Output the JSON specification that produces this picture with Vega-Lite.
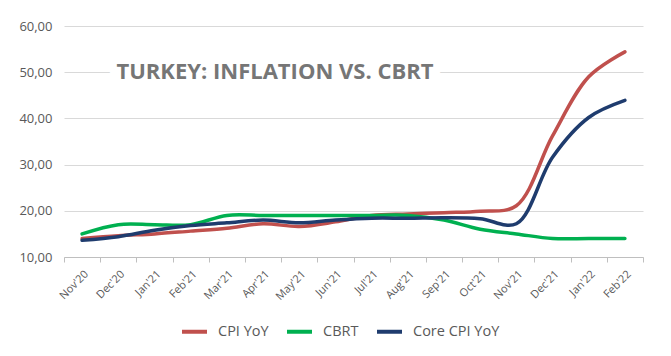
{
  "$schema": "https://vega.github.io/schema/vega-lite/v6.json",
  "width": 579,
  "height": 231,
  "autosize": "none",
  "padding": {"left": 64, "top": 26, "right": 28, "bottom": 99},
  "background": "white",
  "config": {"view": {"stroke": null}, "font": "Open Sans"},
  "data": {"values": [
    {"month": "Nov'20", "series": "CPI YoY", "value": 14.0},
    {"month": "Dec'20", "series": "CPI YoY", "value": 14.6},
    {"month": "Jan'21", "series": "CPI YoY", "value": 15.0},
    {"month": "Feb'21", "series": "CPI YoY", "value": 15.6},
    {"month": "Mar'21", "series": "CPI YoY", "value": 16.2},
    {"month": "Apr'21", "series": "CPI YoY", "value": 17.2},
    {"month": "May'21", "series": "CPI YoY", "value": 16.6},
    {"month": "Jun'21", "series": "CPI YoY", "value": 17.6},
    {"month": "Jul'21", "series": "CPI YoY", "value": 19.0},
    {"month": "Aug'21", "series": "CPI YoY", "value": 19.3},
    {"month": "Sep'21", "series": "CPI YoY", "value": 19.6},
    {"month": "Oct'21", "series": "CPI YoY", "value": 19.9},
    {"month": "Nov'21", "series": "CPI YoY", "value": 21.1},
    {"month": "Dec'21", "series": "CPI YoY", "value": 36.2},
    {"month": "Jan'22", "series": "CPI YoY", "value": 49.0},
    {"month": "Feb'22", "series": "CPI YoY", "value": 54.4},
    {"month": "Nov'20", "series": "CBRT", "value": 15},
    {"month": "Dec'20", "series": "CBRT", "value": 17},
    {"month": "Jan'21", "series": "CBRT", "value": 17},
    {"month": "Feb'21", "series": "CBRT", "value": 17},
    {"month": "Mar'21", "series": "CBRT", "value": 19},
    {"month": "Apr'21", "series": "CBRT", "value": 19},
    {"month": "May'21", "series": "CBRT", "value": 19},
    {"month": "Jun'21", "series": "CBRT", "value": 19},
    {"month": "Jul'21", "series": "CBRT", "value": 19},
    {"month": "Aug'21", "series": "CBRT", "value": 19},
    {"month": "Sep'21", "series": "CBRT", "value": 18},
    {"month": "Oct'21", "series": "CBRT", "value": 16},
    {"month": "Nov'21", "series": "CBRT", "value": 15},
    {"month": "Dec'21", "series": "CBRT", "value": 14},
    {"month": "Jan'22", "series": "CBRT", "value": 14},
    {"month": "Feb'22", "series": "CBRT", "value": 14},
    {"month": "Nov'20", "series": "Core CPI YoY", "value": 13.6},
    {"month": "Dec'20", "series": "Core CPI YoY", "value": 14.4},
    {"month": "Jan'21", "series": "Core CPI YoY", "value": 15.8},
    {"month": "Feb'21", "series": "Core CPI YoY", "value": 16.8},
    {"month": "Mar'21", "series": "Core CPI YoY", "value": 17.4},
    {"month": "Apr'21", "series": "Core CPI YoY", "value": 18.0},
    {"month": "May'21", "series": "Core CPI YoY", "value": 17.4},
    {"month": "Jun'21", "series": "Core CPI YoY", "value": 18.0},
    {"month": "Jul'21", "series": "Core CPI YoY", "value": 18.4},
    {"month": "Aug'21", "series": "Core CPI YoY", "value": 18.4},
    {"month": "Sep'21", "series": "Core CPI YoY", "value": 18.5},
    {"month": "Oct'21", "series": "Core CPI YoY", "value": 18.3},
    {"month": "Nov'21", "series": "Core CPI YoY", "value": 17.2},
    {"month": "Dec'21", "series": "Core CPI YoY", "value": 31.6},
    {"month": "Jan'22", "series": "Core CPI YoY", "value": 40.2},
    {"month": "Feb'22", "series": "Core CPI YoY", "value": 43.9}
  ]},
  "layer": [
    {
      "mark": {"type": "line", "interpolate": "catmull-rom", "strokeWidth": 3.5, "strokeCap": "round"},
      "encoding": {
        "x": {
          "field": "month", "type": "ordinal",
          "sort": ["Nov'20","Dec'20","Jan'21","Feb'21","Mar'21","Apr'21","May'21","Jun'21","Jul'21","Aug'21","Sep'21","Oct'21","Nov'21","Dec'21","Jan'22","Feb'22"],
          "scale": {"type": "band", "paddingInner": 0, "paddingOuter": 0},
          "bandPosition": 0.5,
          "axis": {
            "title": null, "labelAngle": -45, "labelFontSize": 11, "labelColor": "#595959",
            "domainColor": "#BFBFBF", "tickColor": "#BFBFBF", "tickSize": 5, "tickBand": "extent",
            "grid": false, "labelPadding": 6, "labelDx": -5
          }
        },
        "y": {
          "field": "value", "type": "quantitative",
          "scale": {"domain": [10, 60], "nice": false, "zero": false},
          "axis": {
            "title": null, "values": [10, 20, 30, 40, 50, 60],
            "labelExpr": "replace(format(datum.value, '.2f'), '.', ',')",
            "labelFontSize": 13, "labelColor": "#595959", "domain": false, "ticks": false,
            "gridColor": "#D9D9D9", "labelPadding": 12
          }
        },
        "color": {
          "field": "series", "type": "nominal",
          "scale": {"domain": ["CPI YoY", "CBRT", "Core CPI YoY"], "range": ["#C0504D", "#00B050", "#1F3C6E"]},
          "legend": {
            "title": null, "orient": "none", "legendX": 116, "legendY": 291, "direction": "horizontal",
            "symbolType": "stroke", "symbolSize": 625, "symbolStrokeWidth": 4,
            "labelFontSize": 14.5, "labelColor": "#595959", "columnPadding": 10, "labelOffset": 9
          }
        }
      }
    },
    {
      "data": {"values": [{"label": "TURKEY: INFLATION VS. CBRT"}]},
      "mark": {"type": "text", "align": "left", "baseline": "middle", "fontSize": 22, "fontWeight": "bold", "color": "white", "stroke": "white", "strokeWidth": 14},
      "encoding": {"x": {"datum": "Dec'20", "bandPosition": 0.45}, "y": {"datum": 50}, "text": {"field": "label"}}
    },
    {
      "data": {"values": [{"label": "TURKEY: INFLATION VS. CBRT"}]},
      "mark": {"type": "text", "align": "left", "baseline": "middle", "fontSize": 22, "fontWeight": "bold", "color": "#767676"},
      "encoding": {"x": {"datum": "Dec'20", "bandPosition": 0.45}, "y": {"datum": 50}, "text": {"field": "label"}}
    }
  ]
}
